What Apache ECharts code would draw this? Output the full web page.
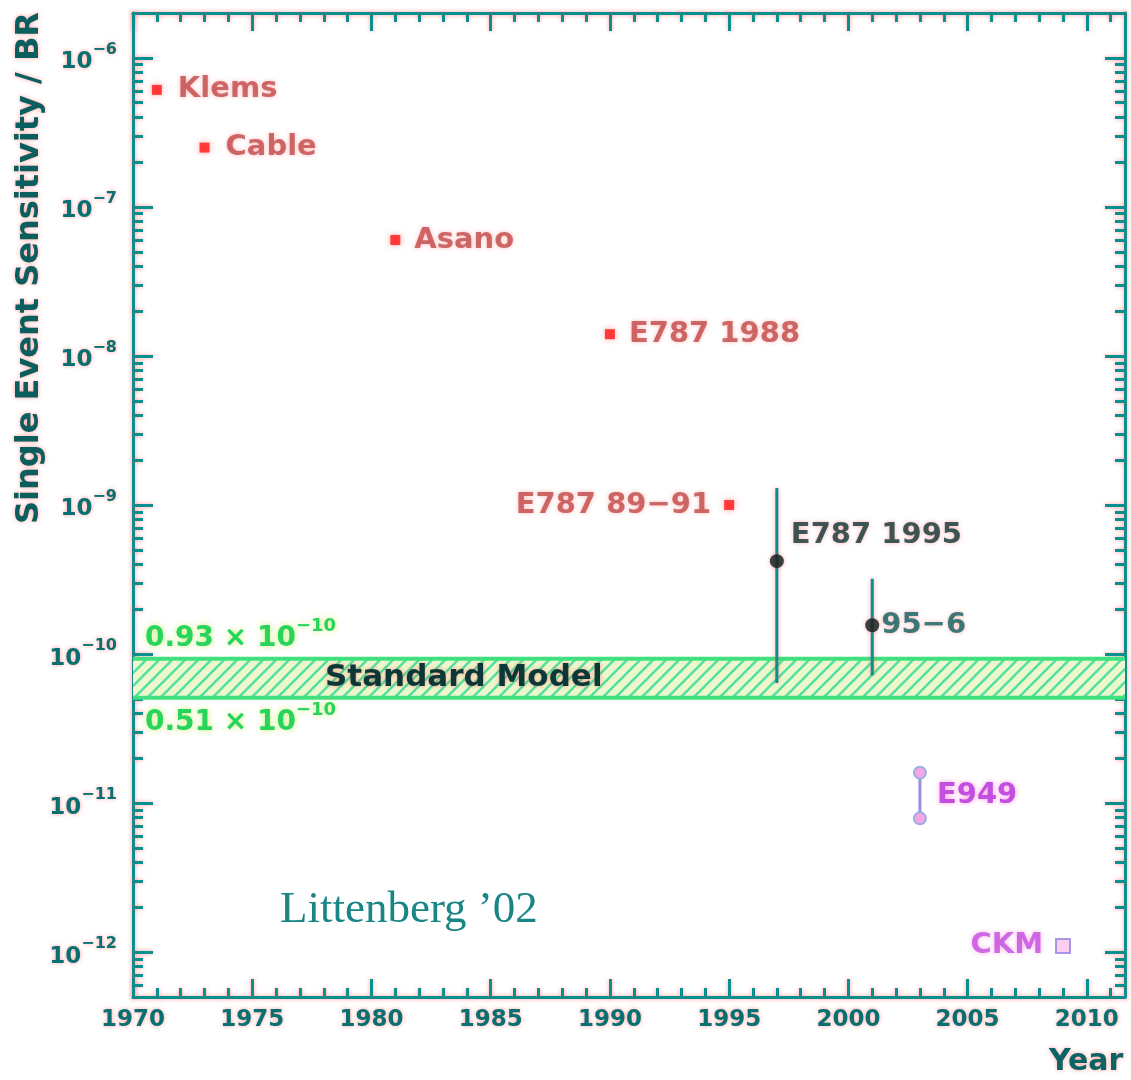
<!DOCTYPE html>
<html>
<head>
<meta charset="utf-8">
<script src="https://cdn.jsdelivr.net/npm/echarts@6/dist/echarts.min.js"></script>
<style>
  html, body { margin: 0; padding: 0; background: #ffffff; }
  #chart { width: 1131px; height: 1080px; }
</style>
</head>
<body>
<div id="chart"></div>
<script>
// Early searches: single event sensitivity
const earlyNames = ['Klems', 'Cable', 'Asano', 'E787 1988', 'E787 89\u221291'];
const earlyYears = [1971, 1973, 1981, 1990, 1995];
const earlySES = [6.1e-7, 2.5e-7, 6.0e-8, 1.4e-8, 1.0e-9];

// Observed branching ratio with error range
const obsNames = ['E787 1995', '95\u22126'];
const obsYears = [1997, 2001];
const obsBR = [4.2e-10, 1.56e-10];
const obsLow = [6.4e-11, 7.2e-11];
const obsHigh = [1.3e-9, 3.2e-10];

// Expected reach of the next experiments
const e949Name = 'E949';
const e949Years = [2003];
const e949Low = [7.9e-12];
const e949High = [1.6e-11];

const ckmName = 'CKM';
const ckmYears = [2009];
const ckmSES = [1.1e-12];

// Standard Model prediction band
const smLow = 0.51e-10;
const smHigh = 0.93e-10;

// Axis ticks
const yearLabels = [1970, 1975, 1980, 1985, 1990, 1995, 2000, 2005, 2010];
const decadeLabels = [1e-12, 1e-11, 1e-10, 1e-9, 1e-8, 1e-7, 1e-6];

const X_MIN = 1970, X_MAX = 2011.6;
const Y_MIN = 5e-13, Y_MAX = 2e-6;

const yearMinor = [];
for (let y = 1971; y <= 2011; y++) if (y % 5 !== 0) yearMinor.push(y);
const decadeMinor = [];
for (let e = -13; e <= -6; e++) {
  for (let k = 2; k <= 9; k++) {
    const v = Number((k * Math.pow(10, e)).toPrecision(3));
    if (v > Y_MIN && v < Y_MAX) decadeMinor.push(v);
  }
}

const TEAL = '#0a8f8f';
const TICK_TEXT = '#087070';
const FRINGE = 'rgba(255,80,80,0.55)';

function hatchCanvas() {
  const c = document.createElement('canvas');
  c.width = 13; c.height = 13;
  const g = c.getContext('2d');
  g.fillStyle = '#edf7cc';
  g.fillRect(0, 0, 13, 13);
  g.strokeStyle = '#50e0a0';
  g.lineWidth = 2.4;
  const seg = (x1, y1, x2, y2) => { g.beginPath(); g.moveTo(x1, y1); g.lineTo(x2, y2); g.stroke(); };
  seg(-2, 15, 15, -2);
  seg(-2, 2, 2, -2);
  seg(11, 15, 15, 11);
  return c;
}

const lineShadow = { shadowColor: FRINGE, shadowBlur: 4 };

function xAxisDef(position, major, withLabels) {
  return {
    type: 'value', position: position, min: X_MIN, max: X_MAX,
    axisLine: { show: major, onZero: false, lineStyle: Object.assign({ color: TEAL, width: 3 }, lineShadow) },
    axisTick: {
      show: true, inside: true, length: major ? 18 : 9,
      customValues: major ? yearLabels : yearMinor,
      lineStyle: Object.assign({ color: TEAL, width: 3 }, lineShadow)
    },
    axisLabel: withLabels ? {
      show: true, customValues: yearLabels, margin: 12,
      color: TICK_TEXT, fontFamily: 'DejaVu Sans', fontSize: 23, fontWeight: 'bold',
      textShadowColor: FRINGE, textShadowBlur: 4,
      formatter: v => String(v)
    } : { show: false },
    splitLine: { show: false }
  };
}

function yAxisDef(position, major, withLabels) {
  return {
    type: 'log', logBase: 10, position: position, min: Y_MIN, max: Y_MAX,
    axisLine: { show: major, onZero: false, lineStyle: Object.assign({ color: TEAL, width: 3 }, lineShadow) },
    axisTick: {
      show: true, inside: true, length: major ? 20 : 10,
      customValues: major ? decadeLabels : decadeMinor,
      lineStyle: Object.assign({ color: TEAL, width: 3 }, lineShadow)
    },
    axisLabel: withLabels ? {
      show: true, customValues: decadeLabels, margin: 16,
      formatter: v => '{b|10}{s|\u2212' + Math.abs(Math.round(Math.log10(v))) + '}',
      rich: {
        b: { color: TICK_TEXT, fontFamily: 'DejaVu Sans', fontSize: 23, fontWeight: 'bold',
             verticalAlign: 'bottom', textShadowColor: FRINGE, textShadowBlur: 4 },
        s: { color: TICK_TEXT, fontFamily: 'DejaVu Sans', fontSize: 16, fontWeight: 'bold',
             verticalAlign: 'bottom', padding: [0, 0, 16, 0], textShadowColor: FRINGE, textShadowBlur: 4 }
      }
    } : { show: false },
    splitLine: { show: false }
  };
}

const redLabelSide = ['right', 'right', 'right', 'right', 'left'];
const redLabelDist = [16, 16, 14, 14, 13];

const labelFont = { fontFamily: 'DejaVu Sans', fontSize: 29, fontWeight: 'bold' };

// Green edge labels of the Standard Model band
const GREEN = '#27d45c';
const greenGlow = { textShadowColor: 'rgba(200,240,110,0.95)', textShadowBlur: 6 };
const greenRich = {
  a: Object.assign({ fill: GREEN, fontFamily: 'DejaVu Sans', fontWeight: 'bold', fontSize: 28,
                     verticalAlign: 'bottom' }, greenGlow),
  s: Object.assign({ fill: GREEN, fontFamily: 'DejaVu Sans', fontWeight: 'bold', fontSize: 18,
                     verticalAlign: 'bottom', padding: [0, 0, 17, 0] }, greenGlow)
};

const chart = echarts.init(document.getElementById('chart'), null, { renderer: 'canvas' });

chart.setOption({
  backgroundColor: '#ffffff',
  animation: false,
  grid: { left: 133, right: 6, top: 13, bottom: 83, containLabel: false, outerBoundsMode: 'none' },
  xAxis: [
    xAxisDef('bottom', true, true),
    xAxisDef('bottom', false, false),
    xAxisDef('top', true, false),
    xAxisDef('top', false, false)
  ],
  yAxis: [
    yAxisDef('left', true, true),
    yAxisDef('left', false, false),
    yAxisDef('right', true, false),
    yAxisDef('right', false, false)
  ],
  graphic: [
    {
      type: 'text', x: 30, y: 268, rotation: Math.PI / 2,
      style: {
        text: 'Single Event Sensitivity / BR', fill: '#0b5e5e',
        fontFamily: 'DejaVu Sans', fontSize: 32, fontWeight: 'bold',
        align: 'center', verticalAlign: 'middle',
        textShadowColor: FRINGE, textShadowBlur: 4
      }
    },
    {
      type: 'text', x: 1049, y: 1062,
      style: {
        text: 'Year', fill: '#0b6464', fontFamily: 'DejaVu Sans', fontSize: 30, fontWeight: 'bold',
        align: 'left', verticalAlign: 'middle', textShadowColor: FRINGE, textShadowBlur: 4
      }
    },
    {
      type: 'text', x: 280, y: 910,
      style: {
        text: 'Littenberg \u201902', fill: '#1a8585', fontFamily: 'Liberation Serif', fontSize: 45,
        align: 'left', verticalAlign: 'middle'
      }
    }
  ],
  series: [
    {
      // Early measurements, plus the Standard Model band
      type: 'scatter', z: 4,
      symbol: 'rect', symbolSize: 10,
      itemStyle: { color: '#ff1515', shadowColor: 'rgba(255,90,90,0.7)', shadowBlur: 6 },
      data: earlyNames.map((n, i) => ({
        name: n, value: [earlyYears[i], earlySES[i]],
        label: { position: redLabelSide[i], distance: redLabelDist[i] }
      })),
      label: Object.assign({
        show: true, formatter: p => p.name, color: '#c04a4a',
        textShadowColor: 'rgba(255,110,110,0.6)', textShadowBlur: 4
      }, labelFont),
      markArea: {
        silent: true, z: 1,
        itemStyle: { color: { image: hatchCanvas(), repeat: 'repeat' } },
        label: {
          show: true, position: 'insideLeft', distance: 0, offset: [192, 0],
          formatter: 'Standard Model', color: '#0a3838',
          fontFamily: 'DejaVu Sans', fontSize: 31, fontWeight: 'bold',
          textShadowColor: FRINGE, textShadowBlur: 4
        },
        data: [[{ yAxis: smLow }, { yAxis: smHigh }]]
      }
    },
    {
      // Edges of the Standard Model band, labelled with their values
      type: 'custom', z: 2, silent: true,
      data: [[smHigh, 1], [smLow, -1]],
      encode: { y: 0 },
      renderItem: (params, api) => {
        const v = api.value(0);
        const side = api.value(1);
        const a = api.coord([X_MIN, v]);
        const b = api.coord([X_MAX, v]);
        const mant = (v * 1e10).toFixed(2);
        return {
          type: 'group',
          children: [
            { type: 'line', shape: { x1: a[0], y1: a[1], x2: b[0], y2: b[1] },
              style: { stroke: '#3fe07e', lineWidth: 4 } },
            { type: 'text', x: a[0] + 12, y: side > 0 ? a[1] - 6 : a[1] + 4,
              style: {
                text: '{a|' + mant + ' \u00d7 10}{s|\u221210}', rich: greenRich,
                align: 'left', verticalAlign: side > 0 ? 'bottom' : 'top'
              } }
          ]
        };
      }
    },
    {
      // Error ranges of observed events
      type: 'custom', z: 3,
      data: obsYears.map((y, i) => [y, obsLow[i], obsHigh[i]]),
      encode: { x: 0, y: [1, 2] },
      renderItem: (params, api) => {
        const x = api.value(0);
        const a = api.coord([x, api.value(1)]);
        const b = api.coord([x, api.value(2)]);
        return {
          type: 'line',
          shape: { x1: a[0], y1: a[1], x2: b[0], y2: b[1] },
          style: { stroke: TEAL, lineWidth: 3, shadowColor: FRINGE, shadowBlur: 4 }
        };
      }
    },
    {
      // Observed central values
      type: 'scatter', z: 5,
      symbol: 'circle', symbolSize: 14,
      itemStyle: { color: '#0a1e1e', shadowColor: FRINGE, shadowBlur: 4 },
      data: obsNames.map((n, i) => ({
        name: n, value: [obsYears[i], obsBR[i]],
        label: i === 0 ? { position: 'right', distance: 7, offset: [0, -26], color: '#0c3636' }
                       : { position: 'right', distance: 2, color: '#0b6060' }
      })),
      label: Object.assign({
        show: true, formatter: p => p.name,
        textShadowColor: FRINGE, textShadowBlur: 4
      }, labelFont)
    },
    {
      // E949 expected range
      type: 'custom', z: 5,
      data: e949Years.map((y, i) => [y, e949Low[i], e949High[i]]),
      encode: { x: 0, y: [1, 2] },
      renderItem: (params, api) => {
        const x = api.value(0);
        const a = api.coord([x, api.value(1)]);
        const b = api.coord([x, api.value(2)]);
        const dot = p => ({
          type: 'circle', shape: { cx: p[0], cy: p[1], r: 6 },
          style: { fill: '#f6a6e2', stroke: '#98aee8', lineWidth: 2 }
        });
        return {
          type: 'group',
          children: [
            { type: 'line', shape: { x1: a[0], y1: a[1], x2: b[0], y2: b[1] },
              style: { stroke: '#9a8fe0', lineWidth: 3 } },
            dot(a), dot(b),
            { type: 'text', x: a[0] + 17, y: (a[1] + b[1]) / 2,
              style: { text: e949Name, fill: '#c24fe0', fontFamily: 'DejaVu Sans', fontSize: 29,
                       fontWeight: 'bold', align: 'left', verticalAlign: 'middle',
                       textShadowColor: 'rgba(255,120,220,0.7)', textShadowBlur: 5 } }
          ]
        };
      }
    },
    {
      // CKM expected sensitivity
      type: 'scatter', z: 5,
      symbol: 'rect', symbolSize: 14,
      itemStyle: { color: '#f9c4ea', borderColor: '#9580e0', borderWidth: 2 },
      data: ckmYears.map((y, i) => ({ name: ckmName, value: [y, ckmSES[i]] })),
      label: Object.assign({
        show: true, position: 'left', distance: 12, formatter: p => p.name, color: '#c24fe0',
        textShadowColor: 'rgba(255,120,220,0.7)', textShadowBlur: 5
      }, labelFont)
    }
  ]
});
</script>
</body>
</html>
